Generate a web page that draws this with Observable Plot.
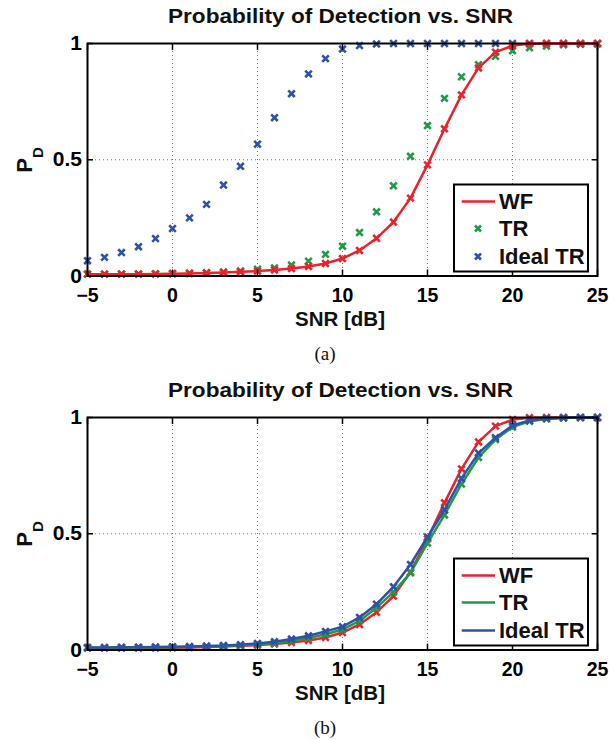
<!DOCTYPE html>
<html><head><meta charset="utf-8">
<script src="https://cdn.jsdelivr.net/npm/d3@7"></script>
<script src="https://cdn.jsdelivr.net/npm/@observablehq/plot@0.6"></script>
<style>
html,body{margin:0;padding:0;background:#fff;}
#root{position:relative;width:616px;height:740px;overflow:hidden;background:#fff;}
.panel{position:absolute;left:0;}
</style></head><body><div id="root"></div>
<script>
// ---- data ----
const snr = [-5,-4,-3,-2,-1,0,1,2,3,4,5,6,7,8,9,10,11,12,13,14,15,16,17,18,19,20,21,22,23,24,25];
const xTicks = [-5,0,5,10,15,20,25];
const yTicks = [0,0.5,1];
const gridXTicks = [0,5,10,15,20];
const gridYTicks = [0.5];
const seriesNames = ["WF","TR","Ideal TR"];
const seriesColors = ["#e8232a","#1f9a48","#2f52a8"];
const titleText = "Probability of Detection vs. SNR";
const xLabelText = "SNR [dB]";
const yLabelMain = "P";
const yLabelSub = "D";
const captions = ["(a)","(b)"];

// WF (same in both panels)
const wf = [0.008,0.008,0.008,0.008,0.009,0.010,0.011,0.013,0.015,0.018,0.021,0.026,0.032,0.041,0.054,0.075,0.110,0.162,0.232,0.335,0.478,0.633,0.779,0.895,0.963,0.991,0.999,1,1,1,1];
// panel (a)
const trA = [0.008,0.008,0.009,0.009,0.010,0.011,0.012,0.014,0.017,0.022,0.029,0.035,0.047,0.064,0.093,0.128,0.187,0.276,0.388,0.515,0.647,0.764,0.857,0.909,0.945,0.969,0.982,0.989,0.994,0.997,0.999];
const idealA = [0.066,0.080,0.101,0.126,0.161,0.204,0.250,0.308,0.391,0.472,0.567,0.681,0.784,0.869,0.935,0.976,0.991,0.998,1,1,1,1,1,1,1,1,1,1,1,1,1];
// panel (b)
const trB = [0.010,0.010,0.010,0.011,0.011,0.012,0.013,0.015,0.017,0.020,0.024,0.030,0.040,0.052,0.068,0.088,0.125,0.182,0.249,0.332,0.460,0.581,0.714,0.828,0.905,0.959,0.984,0.994,0.998,1,1];
const idealB = [0.011,0.011,0.012,0.012,0.013,0.014,0.015,0.017,0.019,0.023,0.028,0.036,0.047,0.061,0.080,0.100,0.140,0.197,0.272,0.368,0.486,0.603,0.738,0.847,0.913,0.966,0.987,0.996,0.999,1,1];

// ---- drawing ----
const FONT = '"Liberation Sans", Arial, Helvetica, sans-serif';
const W = 616, H = 374;
const frameTop = 43, frameBottom = 275.5, frameLeft = 87, frameRight = 597;

function rows(vals, name){ return snr.map((s,i)=>({snr:s, pd:vals[i], series:name})); }

function makePanel(layers, legendItems, caption){
  const marks = [
    Plot.gridX(gridXTicks, {stroke:"#777", strokeOpacity:1, strokeWidth:1, strokeDasharray:"1,3"}),
    Plot.gridY(gridYTicks, {stroke:"#777", strokeOpacity:1, strokeWidth:1, strokeDasharray:"1,3"})
  ];
  for (const L of layers){
    if (L.line) marks.push(Plot.line(L.data, {x:"snr", y:"pd", stroke:L.color, strokeWidth:2.5}));
    marks.push(Plot.dot(L.data, {x:"snr", y:"pd", symbol:"times", r:3.1, stroke:L.color, strokeWidth:2.6}));
  }
  marks.push(
    Plot.frame({stroke:"#000", strokeWidth:2}),
    Plot.axisX(xTicks, {anchor:"bottom", tickSize:-6, tickPadding:18.5, strokeWidth:1.5, fontSize:19.5, fontWeight:"bold", label:null}),
    Plot.axisX(xTicks, {anchor:"top", tickSize:-6, strokeWidth:1.5, tickFormat:() => "", label:null}),
    Plot.axisY(yTicks, {anchor:"left", tickSize:-6, tickPadding:11.5, strokeWidth:1.5, fontSize:21, fontWeight:"bold", tickFormat:d => String(d), label:null}),
    Plot.axisY(yTicks, {anchor:"right", tickSize:-6, strokeWidth:1.5, tickFormat:() => "", label:null})
  );
  const svg = Plot.plot({
    width: W, height: H,
    marginTop: frameTop, marginBottom: H - frameBottom, marginLeft: frameLeft, marginRight: W - frameRight,
    x: {domain:[-5,25]},
    y: {domain:[0,1]},
    style: {fontFamily: FONT, background:"#fff", overflow:"visible", color:"#000"},
    marks
  });
  const s = d3.select(svg);
  // title
  s.append("text").attr("x",340.5).attr("y",23.3).attr("text-anchor","middle")
    .attr("font-family",FONT).attr("font-size",20).attr("font-weight","bold")
    .attr("textLength",345).attr("lengthAdjust","spacingAndGlyphs").attr("fill","#111")
    .text(titleText);
  // x label
  s.append("text").attr("x",340).attr("y",325.5).attr("text-anchor","middle")
    .attr("font-family",FONT).attr("font-size",20.5).attr("font-weight","bold").attr("fill","#111")
    .text(xLabelText);
  // y label with subscript
  const yl = s.append("text").attr("transform","translate(31.7,160) rotate(-90)")
    .attr("text-anchor","middle").attr("font-family",FONT).attr("font-weight","bold").attr("fill","#111");
  yl.append("tspan").attr("font-size",22).text(yLabelMain);
  yl.append("tspan").attr("font-size",15).attr("dy",11).text(yLabelSub);
  // caption
  s.append("text").attr("x",325).attr("y",359.5).attr("text-anchor","middle")
    .attr("font-family",'"Liberation Serif", "Times New Roman", serif').attr("font-size",19).attr("fill","#111")
    .text(caption);
  // legend
  const lg = s.append("g");
  lg.append("rect").attr("x",454).attr("y",184.5).attr("width",134).attr("height",87)
    .attr("fill","#fff").attr("stroke","#000").attr("stroke-width",2);
  const rowY = [201.5,228.5,256.5];
  legendItems.forEach((it,i)=>{
    const y = rowY[i];
    if (it.line) lg.append("line").attr("x1",461.7).attr("x2",495).attr("y1",y).attr("y2",y)
      .attr("stroke",it.color).attr("stroke-width",2.5);
    if (it.marker) lg.append("path").attr("d","M-3,-3L3,3M-3,3L3,-3").attr("transform",`translate(478,${y})`)
      .attr("stroke",it.color).attr("stroke-width",2.6).attr("fill","none");
    lg.append("text").attr("x",499).attr("y",y).attr("dy","0.36em").attr("text-anchor","start")
      .attr("font-family",FONT).attr("font-size",22).attr("font-weight","bold").attr("fill","#111")
      .text(it.name);
  });
  return svg;
}

const root = document.getElementById("root");

const panelA = makePanel([
  {data: rows(trA, seriesNames[1]), color: seriesColors[1], line:false},
  {data: rows(idealA, seriesNames[2]), color: seriesColors[2], line:false},
  {data: rows(wf, seriesNames[0]), color: seriesColors[0], line:true}
], [
  {name: seriesNames[0], color: seriesColors[0], line:true, marker:false},
  {name: seriesNames[1], color: seriesColors[1], line:false, marker:true},
  {name: seriesNames[2], color: seriesColors[2], line:false, marker:true}
], captions[0]);

const panelB = makePanel([
  {data: rows(wf, seriesNames[0]), color: seriesColors[0], line:true},
  {data: rows(trB, seriesNames[1]), color: seriesColors[1], line:true},
  {data: rows(idealB, seriesNames[2]), color: seriesColors[2], line:true}
], [
  {name: seriesNames[0], color: seriesColors[0], line:true, marker:false},
  {name: seriesNames[1], color: seriesColors[1], line:true, marker:false},
  {name: seriesNames[2], color: seriesColors[2], line:true, marker:false}
], captions[1]);

const wa = document.createElement("div"); wa.className = "panel"; wa.style.top = "0px"; wa.appendChild(panelA);
const wb = document.createElement("div"); wb.className = "panel"; wb.style.top = "374px"; wb.appendChild(panelB);
root.appendChild(wa); root.appendChild(wb);
</script>
</body></html>
